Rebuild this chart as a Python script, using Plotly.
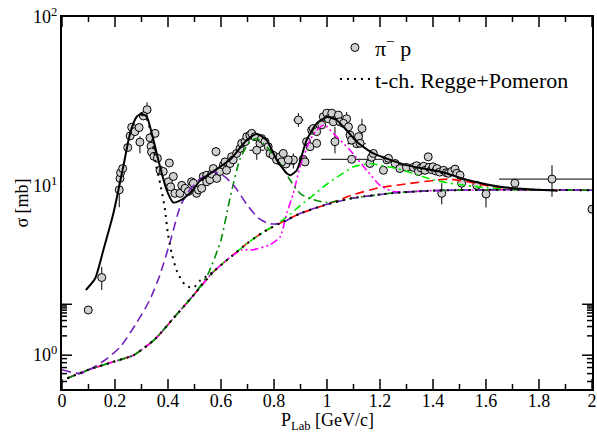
import math
import plotly.graph_objects as go

# ---------------- data ----------------
# pi- p total cross section, measured points (P_lab in GeV/c, sigma in mb)
PTS_X = [0.099, 0.219, 0.221, 0.229, 0.248, 0.257, 0.263, 0.275, 0.291, 0.307,
         0.332, 0.336, 0.338, 0.347, 0.351, 0.360, 0.370, 0.382, 0.401, 0.405,
         0.410, 0.420, 0.426, 0.445, 0.452, 0.464, 0.477, 0.489, 0.496, 0.508,
         0.515, 0.527, 0.533, 0.546, 0.546, 0.558, 0.565, 0.571, 0.584, 0.596,
         0.609, 0.615, 0.621, 0.634, 0.640, 0.646, 0.659, 0.672, 0.678, 0.691,
         0.697, 0.709, 0.716, 0.728, 0.747, 0.753, 0.766, 0.778, 0.785, 0.797,
         0.810, 0.823, 0.829, 0.835, 0.854, 0.910, 0.917, 0.923, 0.936, 0.942,
         0.948, 0.961, 0.961, 0.980, 0.986, 0.999, 1.005, 1.018, 1.024, 1.043,
         1.049, 1.062, 1.081, 1.087, 1.093, 1.119, 1.125, 1.162, 1.168, 1.175,
         1.213, 1.226, 1.232, 1.257, 1.275, 1.300, 1.326, 1.338, 1.345, 1.355,
         1.365, 1.370, 1.382, 1.385, 1.395, 1.400, 1.410, 1.415, 1.425, 1.440,
         1.450, 1.458, 1.470, 1.483, 1.490, 1.502, 1.565, 1.709, 2.000]
PTS_Y = [1.85, 11.1, 12.0, 12.7, 16.9, 19.8, 22.3, 21.0, 22.2, 26.0,
         19.3, 17.2, 15.9, 15.0, 20.5, 14.6, 12.4, 12.2, 10.6, 13.7,
         9.9, 11.4, 9.06, 9.06, 10.1, 9.7, 9.3, 10.6, 10.4, 9.06,
         9.5, 9.7, 11.4, 11.6, 10.6, 10.9, 11.8, 12.7, 11.1, 12.2,
         13.3, 13.9, 12.4, 13.6, 14.9, 14.3, 15.6, 16.7, 17.9, 18.3,
         19.6, 20.0, 20.5, 19.6, 17.9, 19.1, 18.3, 17.1, 15.6, 15.2,
         14.3, 14.9, 13.9, 15.6, 14.3, 14.4, 13.9, 18.3, 17.1, 21.4,
         21.9, 17.9, 21.0, 23.0, 25.7, 27.0, 25.0, 27.0, 24.0, 26.3,
         24.0, 23.5, 22.4, 20.0, 18.7, 19.6, 17.9, 13.6, 14.8, 15.6,
         12.4, 14.3, 14.6, 13.6, 12.7, 12.9, 12.9, 13.2, 12.2, 12.8,
         13.1, 12.4, 14.9, 12.9, 12.5, 13.0, 12.3, 12.7, 12.1, 12.4,
         12.0, 11.9, 12.2, 12.6, 11.9, 11.6, 10.1, 10.4, 7.3]

# points carrying error bars
EB_X = [0.150, 0.216, 0.294, 0.321, 0.581, 0.735, 0.845, 0.873, 0.892, 1.030,
        1.074, 1.093, 1.112, 1.132, 1.433, 1.508, 1.600, 1.849]
EB_Y = [2.88, 9.5, 18.2, 28.3, 16.0, 16.3, 13.5, 14.3, 24.6, 18.3,
        25.0, 14.4, 17.8, 21.9, 9.06, 10.4, 8.97, 11.0]
EB_UP = [0.45, 1.4, 1.5, 3.0, 1.0, 1.6, 0.6, 1.3, 2.4, 4.1,
         2.4, 0.0, 0.0, 3.1, 1.34, 0.6, 0.6, 2.3]
EB_DN = [0.45, 2.0, 2.6, 1.6, 1.0, 2.0, 0.6, 1.6, 2.2, 2.7,
         2.2, 0.0, 0.0, 2.8, 1.26, 0.8, 1.5, 2.35]
EB_XE = [0.0, 0.0, 0.0, 0.0, 0.011, 0.028, 0.035, 0.0, 0.019, 0.0,
         0.0, 0.115, 0.035, 0.0, 0.0, 0.0, 0.0, 0.2]

# t-channel Regge + Pomeron background
BG_X = [0.02, 0.1, 0.2, 0.27, 0.35, 0.42, 0.5, 0.57, 0.64, 0.7,
        0.76, 0.82, 0.9, 1.0, 1.1, 1.25, 1.4, 1.6, 1.8, 2.0]
BG_Y = [0.73, 0.82, 0.92, 1.0, 1.24, 1.65, 2.3, 3.1, 3.85, 4.6,
        5.35, 6.0, 6.9, 7.8, 8.5, 9.1, 9.4, 9.5, 9.5, 9.45]

# background + Delta(1232)
D1232_X = [0.30, 0.32, 0.34, 0.355, 0.372, 0.389, 0.399, 0.414, 0.435, 0.465,
           0.495, 0.52, 0.57]
D1232_Y = [26.5, 25.0, 19.0, 13.3, 10.1, 7.2, 5.3, 4.0, 3.1, 2.6,
           2.5, 2.75, 3.1]

# full model
FULL_X = [0.09, 0.125, 0.156, 0.194, 0.231, 0.257, 0.282, 0.301, 0.32, 0.345,
          0.37, 0.395, 0.42, 0.445, 0.483, 0.52, 0.57, 0.634, 0.697, 0.735,
          0.772, 0.81, 0.848, 0.862, 0.886, 0.923, 0.961, 1.0, 1.036, 1.074,
          1.112, 1.175, 1.238, 1.30, 1.363, 1.426, 1.527, 1.653, 1.78, 1.87]
FULL_Y = [2.43, 2.84, 4.18, 6.9, 13.0, 20.5, 25.7, 26.7, 25.7, 18.7,
          13.0, 9.47, 8.0, 8.2, 9.1, 10.7, 12.2, 14.3, 18.7, 20.3,
          18.7, 14.3, 11.9, 11.6, 12.4, 18.7, 23.5, 25.6, 24.6, 21.4,
          18.3, 15.6, 14.3, 13.3, 12.7, 12.2, 10.9, 9.9, 9.55, 9.4]

# background + N(1440)
N1440_X = [0.0, 0.07, 0.16, 0.22, 0.28, 0.33, 0.37, 0.41, 0.445, 0.475,
           0.52, 0.57, 0.61, 0.65, 0.7, 0.74, 0.78, 0.82, 0.9, 1.0,
           1.1, 1.25, 1.4, 1.6, 1.8, 2.0]
N1440_Y = [0.82, 0.78, 0.93, 1.12, 1.54, 2.1, 3.0, 4.8, 7.5, 9.2,
           11.0, 12.1, 11.5, 10.0, 7.7, 6.5, 6.0, 6.0, 6.9, 7.8,
           8.5, 9.1, 9.4, 9.5, 9.5, 9.45]

# background + N(1535)
N1535_X = [0.02, 0.1, 0.2, 0.27, 0.35, 0.42, 0.5, 0.55, 0.6, 0.634,
           0.672, 0.709, 0.735, 0.772, 0.823, 0.86, 0.9, 0.95, 1.0, 1.1,
           1.25, 1.4, 1.6, 1.8, 2.0]
N1535_Y = [0.73, 0.82, 0.92, 1.0, 1.24, 1.65, 2.3, 3.0, 4.8, 8.5,
           14.5, 18.3, 19.1, 17.1, 13.6, 10.9, 9.0, 8.3, 8.0, 8.5,
           9.1, 9.4, 9.5, 9.5, 9.45]

# background + N(1650)
N1650_X = [0.02, 0.1, 0.2, 0.27, 0.35, 0.42, 0.5, 0.57, 0.64, 0.68,
           0.72, 0.785, 0.823, 0.848, 0.873, 0.898, 0.936, 0.961, 0.99, 1.024,
           1.087, 1.15, 1.2, 1.25, 1.4, 1.6, 1.8, 2.0]
N1650_Y = [0.73, 0.82, 0.92, 1.0, 1.24, 1.65, 2.3, 3.1, 3.85, 4.2,
           4.2, 4.5, 5.0, 6.9, 9.06, 13.0, 18.7, 21.4, 23.0, 20.5,
           16.3, 12.4, 10.1, 9.3, 9.4, 9.5, 9.5, 9.45]

# background + N(1720)
N1720_X = [0.02, 0.1, 0.2, 0.27, 0.35, 0.42, 0.5, 0.57, 0.64, 0.7,
           0.76, 0.82, 0.86, 0.9, 0.94, 0.986, 1.049, 1.1, 1.16, 1.2,
           1.263, 1.338, 1.4, 1.464, 1.59, 1.716, 1.8, 2.0]
N1720_Y = [0.73, 0.82, 0.92, 1.0, 1.24, 1.65, 2.3, 3.1, 3.85, 4.6,
           5.35, 6.1, 6.8, 7.7, 8.6, 9.9, 11.6, 13.0, 13.6, 13.3,
           12.7, 11.7, 10.9, 10.4, 9.8, 9.55, 9.5, 9.45]

# background + N(1905)
N1905_X = [0.02, 0.1, 0.2, 0.27, 0.35, 0.42, 0.5, 0.57, 0.64, 0.7,
           0.76, 0.82, 0.9, 1.0, 1.1, 1.2, 1.3, 1.4, 1.46, 1.53,
           1.63, 1.72, 1.8, 2.0]
N1905_Y = [0.73, 0.82, 0.92, 1.0, 1.24, 1.65, 2.3, 3.1, 3.85, 4.6,
           5.35, 6.0, 6.9, 7.8, 8.9, 9.8, 10.3, 10.8, 11.0, 10.6,
           9.9, 9.55, 9.5, 9.45]

# resonance labels
RES_NAMES = ["1232", "1440", "1535", "1650", "1720", "1905"]
RES_X = [0.292, 0.49, 0.731, 0.989, 1.258, 1.525]
RES_Y = [36.2, 15.3, 23.6, 32.3, 17.7, 14.6]

X_TICKS = [0, 0.2, 0.4, 0.6, 0.8, 1.0, 1.2, 1.4, 1.6, 1.8, 2.0]
X_TICK_TEXT = ["0", "0.2", "0.4", "0.6", "0.8", "1", "1.2", "1.4", "1.6", "1.8", "2"]
X_MINOR = [0.1, 0.3, 0.5, 0.7, 0.9, 1.1, 1.3, 1.5, 1.7, 1.9]
Y_TICKS = [1, 10, 100]
Y_TICK_TEXT = ["10<sup>0</sup>", "10<sup>1</sup>", "10<sup>2</sup>"]
Y_MINOR = [0.7, 0.8, 0.9, 2, 3, 4, 5, 6, 7, 8, 9, 20, 30, 40, 50, 60, 70, 80, 90]

FONT = "Liberation Serif"
MAJOR_LEN, MINOR_LEN = 10, 5

# ---------------- figure ----------------
fig = go.Figure()

marker_style = dict(symbol="circle", size=8, color="#d0d0d0",
                    line=dict(color="black", width=1))

fig.add_trace(go.Scatter(
    x=EB_X, y=EB_Y, mode="markers", marker=marker_style, showlegend=False,
    error_y=dict(type="data", array=EB_UP, arrayminus=EB_DN, symmetric=False,
                 color="black", thickness=1, width=0),
    error_x=dict(type="data", array=EB_XE, color="black", thickness=1, width=0),
))
fig.add_trace(go.Scatter(
    x=PTS_X, y=PTS_Y, mode="markers", marker=marker_style,
    name="\u03c0<sup>\u2212</sup> p",
))

spline = dict(shape="spline", smoothing=0.6)

curves = [
    (N1905_X, N1905_Y, "#ff0000", "9px,5px", 1.6),
    (N1720_X, N1720_Y, "#00ee00", "8px,4px,2px,4px", 1.6),
    (N1650_X, N1650_Y, "#ff00ff", "8px,3px,2px,3px,2px,3px", 1.6),
    (N1535_X, N1535_Y, "#008b00", "8px,4px,2px,4px", 1.6),
    (N1440_X, N1440_Y, "#7221bc", "9px,5px", 1.6),
]
for cx, cy, col, dash, w in curves:
    fig.add_trace(go.Scatter(
        x=cx, y=cy, mode="lines", showlegend=False,
        line=dict(color=col, dash=dash, width=w, **spline),
    ))

fig.add_trace(go.Scatter(
    x=BG_X, y=BG_Y, mode="lines", name="t-ch. Regge+Pomeron",
    line=dict(color="black", dash="2px,5px", width=2, **spline),
))
fig.add_trace(go.Scatter(
    x=D1232_X, y=D1232_Y, mode="lines", showlegend=False,
    line=dict(color="black", dash="2px,5px", width=2, **spline),
))
fig.add_trace(go.Scatter(
    x=FULL_X, y=FULL_Y, mode="lines", showlegend=False,
    line=dict(color="black", width=2, **spline),
))

for name, rx, ry in zip(RES_NAMES, RES_X, RES_Y):
    fig.add_annotation(x=rx, y=ry, yref="y", xref="x", text=name,
                       showarrow=False, font=dict(family=FONT, size=14, color="black"))

# inward tick marks on all four sides of the frame
tick_line = dict(color="black", width=1.5)
for vals, ln in ((X_TICKS, MAJOR_LEN), (X_MINOR, MINOR_LEN)):
    for xv in vals:
        for base, sign in ((0, 1), (1, -1)):
            fig.add_shape(type="line", xref="x", yref="paper", ysizemode="pixel",
                          yanchor=base, x0=xv, x1=xv, y0=0, y1=sign * ln,
                          line=tick_line, layer="above")
for vals, ln in ((Y_TICKS, MAJOR_LEN), (Y_MINOR, MINOR_LEN)):
    for yv in vals:
        ly = math.log10(yv)
        for base, sign in ((0, 1), (1, -1)):
            fig.add_shape(type="line", xref="paper", yref="y", xsizemode="pixel",
                          xanchor=base, x0=0, x1=sign * ln, y0=ly, y1=ly,
                          line=tick_line, layer="above")

# x-axis title, placed close under the tick labels
fig.add_annotation(xref="paper", yref="paper", x=0.5, y=-0.05, xanchor="center",
                   yanchor="top", showarrow=False, text="P<sub>Lab</sub> [GeV/c]",
                   font=dict(family=FONT, size=18, color="black"))

axis_common = dict(showline=True, linecolor="black", linewidth=2, mirror=True,
                   ticks="", showgrid=False, zeroline=False, automargin=False,
                   tickfont=dict(family=FONT, size=18, color="black"))

fig.update_xaxes(range=[0, 2], tickmode="array", tickvals=X_TICKS, ticktext=X_TICK_TEXT,
                 ticklabelstandoff=-6, **axis_common)
fig.update_yaxes(type="log", range=[-0.2, 2], tickmode="array",
                 tickvals=Y_TICKS, ticktext=Y_TICK_TEXT, ticklabelstandoff=-1,
                 title=dict(text="\u03c3 [mb]", standoff=0,
                            font=dict(family=FONT, size=18, color="black")),
                 **axis_common)

fig.update_layout(
    width=597, height=432,
    margin=dict(l=62, r=5, t=17, b=43),
    paper_bgcolor="white", plot_bgcolor="white",
    font=dict(family=FONT, color="black"),
    legend=dict(x=0.515, y=0.974, xanchor="left", yanchor="top",
                bgcolor="rgba(0,0,0,0)", font=dict(family=FONT, size=22, color="black"),
                tracegroupgap=0, itemwidth=30),
)

fig.write_html("out.html")
